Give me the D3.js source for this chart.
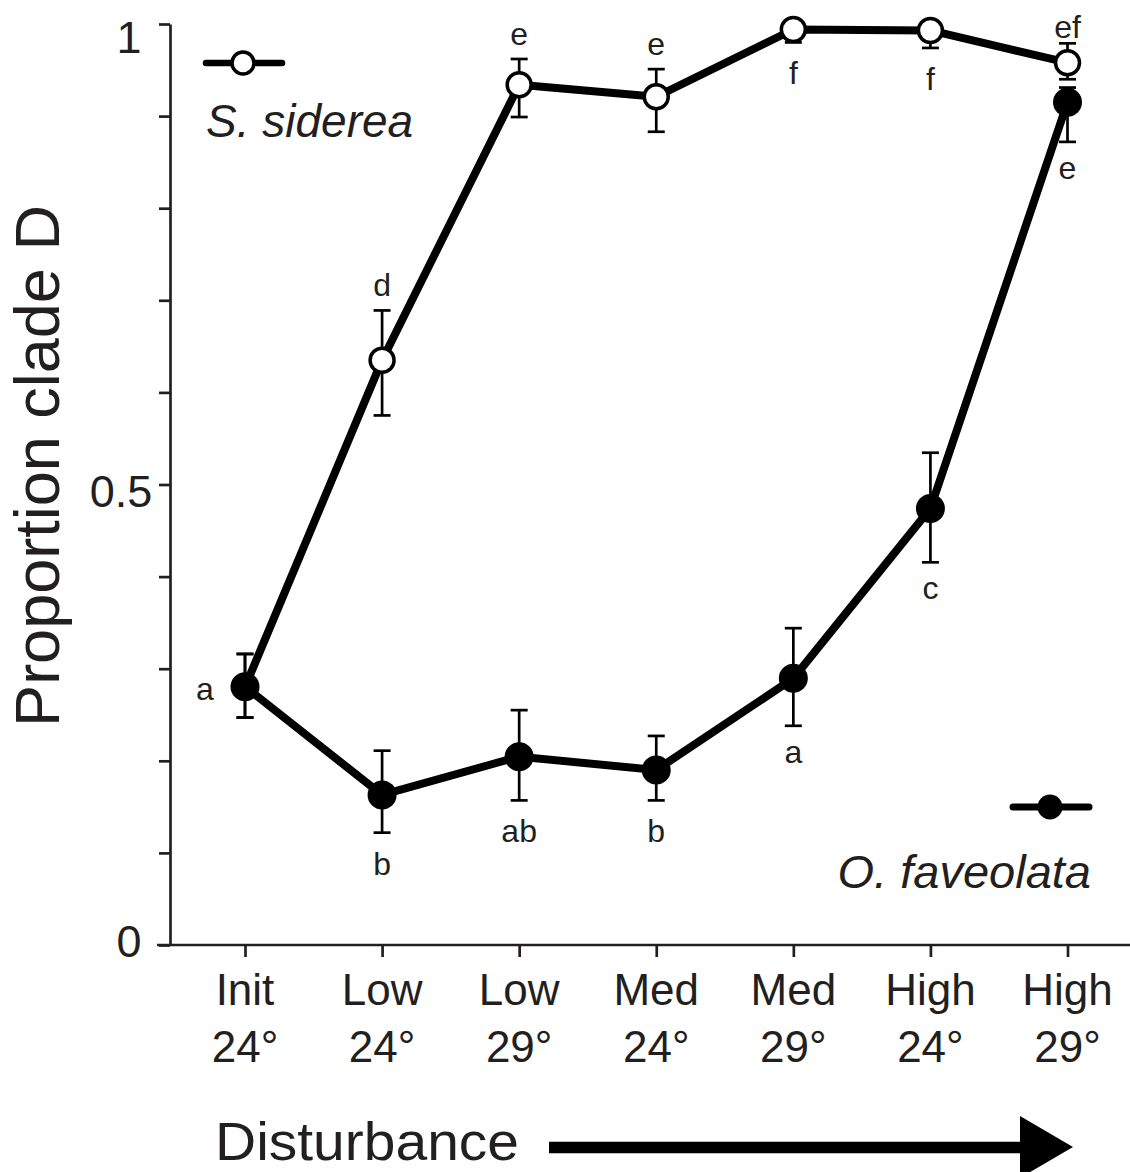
<!DOCTYPE html>
<html>
<head>
<meta charset="utf-8">
<script src="https://cdn.jsdelivr.net/npm/d3@7"></script>
<style>
  html, body { margin: 0; padding: 0; background: #fff; }
  svg { display: block; }
  text { font-family: "Liberation Sans", Arial, Helvetica, sans-serif; fill: #231f20; }
</style>
</head>
<body>
<script>
// Treatment categories along the disturbance gradient
const tickTop    = ["Init", "Low", "Low", "Med", "Med", "High", "High"];
const tickBottom = ["24°", "24°", "29°", "24°", "29°", "24°", "29°"];
const categories = tickTop.map((t, i) => t + " " + tickBottom[i]);

// Siderastrea siderea: mean proportion of clade D with error bounds
const sidereaMean = [0.280, 0.635, 0.934, 0.921, 0.994, 0.993, 0.958];
const sidereaLo   = [0.247, 0.575, 0.899, 0.883, 0.980, 0.974, 0.940];
const sidereaHi   = [0.316, 0.689, 0.962, 0.951, 1.000, 1.000, 0.979];
const sidereaLetters = ["", "d", "e", "e", "f", "f", "ef"];
const sidereaSide    = ["", "above", "above", "above", "below", "below", "above"];

// Orbicella faveolata: mean proportion of clade D with error bounds
const faveolataMean = [0.2805, 0.163, 0.2045, 0.190, 0.2895, 0.474, 0.915];
const faveolataLo   = [0.247, 0.122, 0.157, 0.157, 0.238, 0.4155, 0.872];
const faveolataHi   = [0.316, 0.211, 0.255, 0.227, 0.344, 0.5345, 0.931];
const faveolataLetters = ["a", "b", "ab", "b", "a", "c", "e"];
const faveolataSide    = ["left", "below", "below", "below", "below", "below", "below"];

// Y axis ticks
const yTicks = d3.range(0, 11).map(k => k / 10);
const yTickLabels = [{ v: 0, t: "0" }, { v: 0.5, t: "0.5" }, { v: 1, t: "1" }];

const W = 1130, H = 1172;
const ink = "#231f20";

const svg = d3.select("body").append("svg").attr("width", W).attr("height", H);

const x = d3.scalePoint().domain(categories).range([245, 1067.5]).padding(0);
const y = d3.scaleLinear().domain([0, 1]).range([945, 24]);

// ---- axes ----
const yAxis = svg.append("g").attr("transform", "translate(170,0)")
  .call(d3.axisLeft(y).tickValues(yTicks).tickSize(11).tickSizeOuter(0).tickFormat(""));
yAxis.selectAll("path, line").attr("stroke", ink).attr("stroke-width", 2.7);

const xAxis = svg.append("g").attr("transform", "translate(0,945)")
  .call(d3.axisBottom(x).tickSize(12).tickSizeOuter(0).tickFormat(""));
xAxis.select(".domain").remove();
xAxis.selectAll("line").attr("stroke", ink).attr("stroke-width", 2.7);
svg.append("line").attr("x1", 157).attr("x2", W).attr("y1", 945).attr("y2", 945)
  .attr("stroke", ink).attr("stroke-width", 2.7);

// y tick labels
const yLabelShift = { "0": 12, "0.5": 22, "1": 29 };
svg.selectAll("text.ytl").data(yTickLabels).join("text")
  .attr("class", "ytl")
  .attr("x", d => d.t.length > 1 ? 121 : 129)
  .attr("y", d => y(d.v) + yLabelShift[d.t])
  .attr("text-anchor", "middle")
  .attr("font-size", 45)
  .text(d => d.t);

// x tick labels (two lines)
const xl = svg.append("g");
categories.forEach((c, i) => {
  const t = xl.append("text").attr("text-anchor", "middle").attr("font-size", 44);
  t.append("tspan").attr("x", x(c)).attr("y", 1005).text(tickTop[i]);
  t.append("tspan").attr("x", x(c)).attr("y", 1062).text(tickBottom[i]);
});

// axis titles
svg.append("text")
  .attr("transform", "translate(59,466) rotate(-90)")
  .attr("text-anchor", "middle")
  .attr("font-size", 63)
  .text("Proportion clade D");

svg.append("text")
  .attr("x", 215).attr("y", 1160)
  .attr("font-size", 54)
  .attr("textLength", 304).attr("lengthAdjust", "spacingAndGlyphs")
  .text("Disturbance");

// disturbance arrow
svg.append("line").attr("x1", 549).attr("x2", 1030).attr("y1", 1147.5).attr("y2", 1147.5)
  .attr("stroke", "#000").attr("stroke-width", 11.5);
svg.append("path").attr("d", "M1020,1116 L1073,1147 L1020,1178 Z").attr("fill", "#000");

// ---- series ----
function series(mean, lo, hi, filled) {
  const pts = mean.map((m, i) => ({ c: categories[i], m, lo: lo[i], hi: hi[i] }));
  const g = svg.append("g");
  g.append("path").datum(pts)
    .attr("d", d3.line().x(d => x(d.c)).y(d => y(d.m)))
    .attr("fill", "none").attr("stroke", "#000").attr("stroke-width", 8)
    .attr("stroke-linejoin", "round");
  const eb = g.selectAll("g.eb").data(pts).join("g").attr("class", "eb")
    .attr("stroke", "#000").attr("stroke-width", 2.7);
  eb.append("line").attr("x1", d => x(d.c)).attr("x2", d => x(d.c))
    .attr("y1", d => y(d.lo)).attr("y2", d => y(d.hi));
  eb.append("line").attr("x1", d => x(d.c) - 8.5).attr("x2", d => x(d.c) + 8.5)
    .attr("y1", d => y(d.lo)).attr("y2", d => y(d.lo));
  eb.append("line").attr("x1", d => x(d.c) - 8.5).attr("x2", d => x(d.c) + 8.5)
    .attr("y1", d => y(d.hi)).attr("y2", d => y(d.hi));
  g.selectAll("circle").data(pts).join("circle")
    .attr("cx", d => x(d.c)).attr("cy", d => y(d.m))
    .attr("r", filled ? 14.5 : 12)
    .attr("fill", filled ? "#000" : "#fff")
    .attr("stroke", "#000").attr("stroke-width", filled ? 0 : 3.5);
}

// significance letters; "ef" sits down on its error-bar cap
function letters(lab, side, lo, hi, mean) {
  lab.forEach((t, i) => {
    if (!t) return;
    const cx = x(categories[i]);
    const tall = /[bdfhkl]/.test(t);
    let px = cx, py;
    if (side[i] === "above") py = y(hi[i]) - (t.length > 1 ? 5 : 14);
    else if (side[i] === "below") py = y(lo[i]) + (tall ? 42 : 37);
    else { px = cx - 40; py = y(mean[i]) + 13; }
    svg.append("text").attr("x", px).attr("y", py)
      .attr("text-anchor", "middle").attr("font-size", 32).text(t);
  });
}

series(sidereaMean, sidereaLo, sidereaHi, false);
series(faveolataMean, faveolataLo, faveolataHi, true);
letters(sidereaLetters, sidereaSide, sidereaLo, sidereaHi, sidereaMean);
letters(faveolataLetters, faveolataSide, faveolataLo, faveolataHi, faveolataMean);

// ---- legend ----
const leg1 = svg.append("g");
leg1.append("line").attr("x1", 206).attr("x2", 282).attr("y1", 63).attr("y2", 63)
  .attr("stroke", "#000").attr("stroke-width", 6.5).attr("stroke-linecap", "round");
leg1.append("circle").attr("cx", 243).attr("cy", 63).attr("r", 11)
  .attr("fill", "#fff").attr("stroke", "#000").attr("stroke-width", 3.5);
leg1.append("text").attr("x", 206).attr("y", 137).attr("font-size", 46)
  .attr("font-style", "italic").text("S. siderea");

const leg2 = svg.append("g");
leg2.append("line").attr("x1", 1013).attr("x2", 1089).attr("y1", 807).attr("y2", 807)
  .attr("stroke", "#000").attr("stroke-width", 7).attr("stroke-linecap", "round");
leg2.append("circle").attr("cx", 1050).attr("cy", 807).attr("r", 12.5).attr("fill", "#000");
leg2.append("text").attr("x", 1091).attr("y", 888).attr("font-size", 47)
  .attr("text-anchor", "end").attr("font-style", "italic").text("O. faveolata");
</script>
</body>
</html>
